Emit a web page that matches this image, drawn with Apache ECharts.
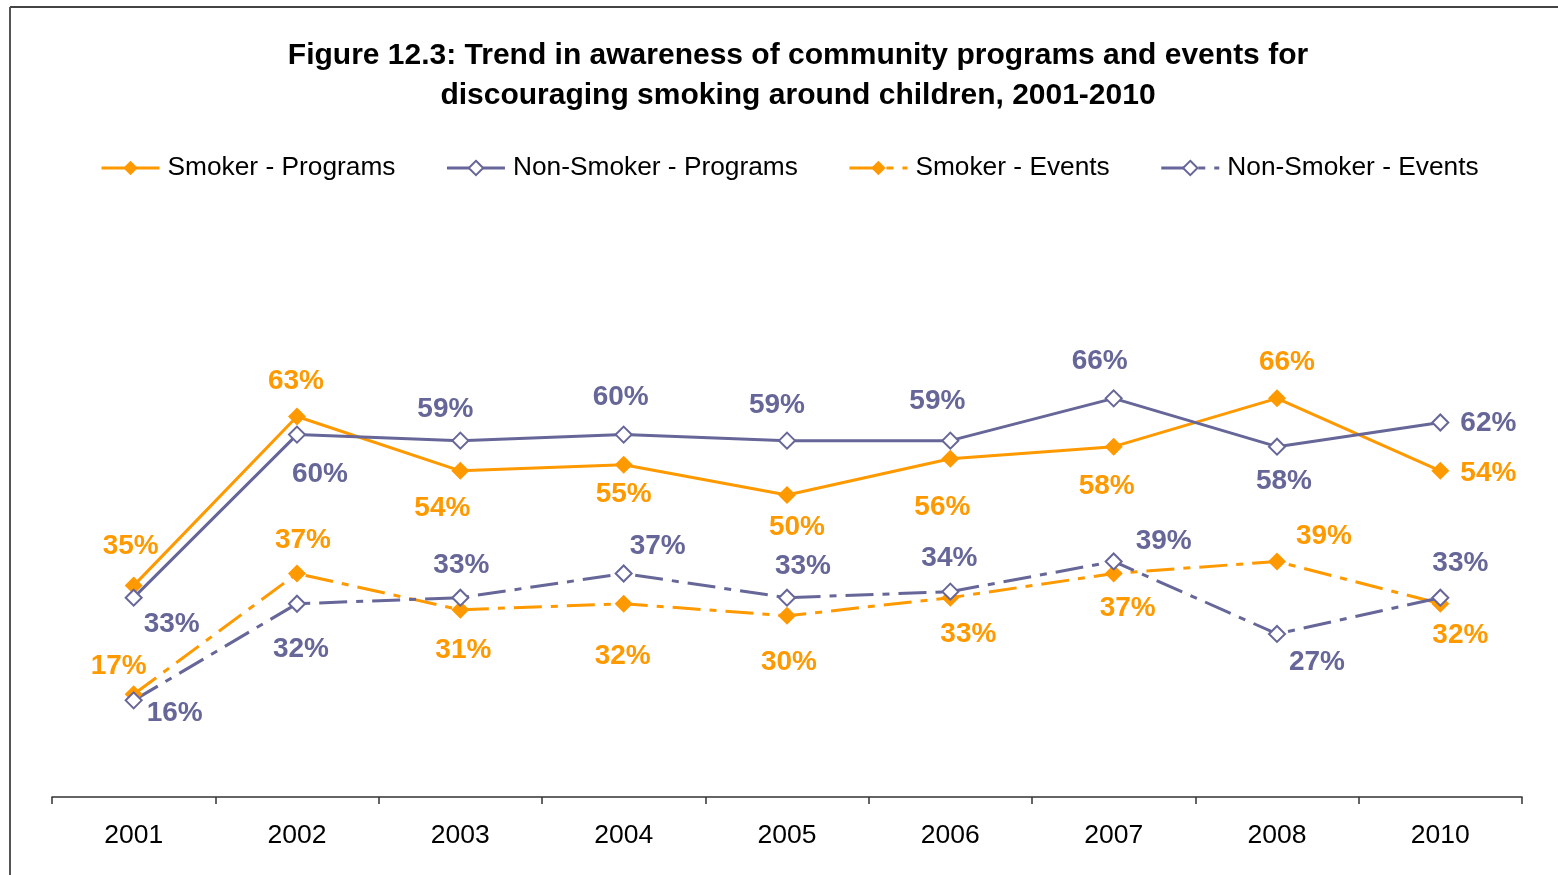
<!DOCTYPE html>
<html>
<head>
<meta charset="utf-8">
<script src="https://cdn.jsdelivr.net/npm/echarts@6/dist/echarts.min.js"></script>
<style>
html,body{margin:0;padding:0;background:#fff;}
#chart{width:1558px;height:875px;}
</style>
</head>
<body>
<div id="chart"></div>
<script>
// ---- data ----
var categories = ['2001','2002','2003','2004','2005','2006','2007','2008','2010'];
var smokerPrograms    = [35, 63, 54, 55, 50, 56, 58, 66, 54];
var nonSmokerPrograms = [33, 60, 59, 60, 59, 59, 66, 58, 62];
var smokerEvents      = [17, 37, 31, 32, 30, 33, 37, 39, 32];
var nonSmokerEvents   = [16, 32, 33, 37, 33, 34, 39, 27, 33];
var seriesNames = ['Smoker - Programs','Non-Smoker - Programs','Smoker - Events','Non-Smoker - Events'];
var titleLines = ['Figure 12.3: Trend in awareness of community programs and events for',
                  'discouraging smoking around children, 2001-2010'];

// ---- layout: label offsets (dx, dy) from each point ----
var offSP  = [[-3,-39],[-1,-35],[-18,37],[0,29],[10,32],[-8,49],[-7,40],[10,-36],[48,2]];
var offNSP = [[38,27],[23,40],[-15,-31],[-3,-37],[-10,-35],[-13,-39],[-14,-37],[7,35],[48,1]];
var offSE  = [[-15,-28],[6,-33],[3,41],[-1,53],[2,46],[18,37],[14,35],[47,-25],[20,32]];
var offNSE = [[41,13],[4,46],[1,-32],[34,-27],[16,-31],[-1,-33],[50,-20],[40,28],[20,-34]];

var ORANGE = '#FF9900', PURPLE = '#666699';
var FONT = 'Liberation Sans, Arial, sans-serif';

function mk(values, offs) {
  return values.map(function (v, i) {
    return { value: v, label: { offset: offs[i] } };
  });
}

function series(name, values, offs, color, dashed, filled) {
  return {
    name: name,
    type: 'line',
    data: mk(values, offs),
    symbol: filled ? 'diamond' : 'emptyDiamond',
    symbolSize: filled ? 18 : 16,
    showAllSymbol: true,
    lineStyle: { color: color, width: 3, type: dashed ? [28, 9, 7, 9] : 'solid' },
    itemStyle: { color: color, borderWidth: filled ? 0 : 1.2 },
    label: {
      show: true, position: 'inside',
      formatter: '{c}%',
      color: color, fontSize: 28, fontWeight: 'bold', fontFamily: FONT
    },
    emphasis: { disabled: true },
    animation: false
  };
}

var chart = echarts.init(document.getElementById('chart'), null, { renderer: 'canvas' });
chart.setOption({
  backgroundColor: '#fff',
  animation: false,
  title: {
    text: titleLines.join('\n'),
    left: 793, top: 31, textAlign: 'center',
    textStyle: { fontFamily: FONT, fontSize: 30, fontWeight: 'bold', color: '#000', lineHeight: 40 }
  },
  legend: {
    data: seriesNames,
    left: 95, top: 150,
    itemWidth: 58, itemHeight: 18, itemGap: 50,
    lineStyle: { width: 3 },
    textStyle: { fontFamily: FONT, fontSize: 26.3, color: '#000', padding: [0, 0, 0, 3] }
  },
  grid: { left: 52, right: 36, top: 193, bottom: 78 },
  xAxis: {
    type: 'category',
    data: categories,
    boundaryGap: true,
    axisLine: { lineStyle: { color: '#333', width: 1.5 } },
    axisTick: { show: true, length: 7, lineStyle: { color: '#333', width: 1.5 } },
    axisLabel: { fontFamily: FONT, fontSize: 26.5, color: '#000', margin: 25 }
  },
  yAxis: {
    type: 'value', min: 0, max: 100, interval: 20, show: false,
    splitLine: { show: false }
  },
  graphic: [
    { type: 'line', shape: { x1: 10, y1: 7, x2: 1558, y2: 7 }, style: { stroke: '#444', lineWidth: 2 } },
    { type: 'line', shape: { x1: 10, y1: 7, x2: 10, y2: 875 }, style: { stroke: '#555', lineWidth: 2 } }
  ],
  series: [
    series(seriesNames[0], smokerPrograms, offSP, ORANGE, false, true),
    series(seriesNames[1], nonSmokerPrograms, offNSP, PURPLE, false, false),
    series(seriesNames[2], smokerEvents, offSE, ORANGE, true, true),
    series(seriesNames[3], nonSmokerEvents, offNSE, PURPLE, true, false)
  ]
});
</script>
</body>
</html>
